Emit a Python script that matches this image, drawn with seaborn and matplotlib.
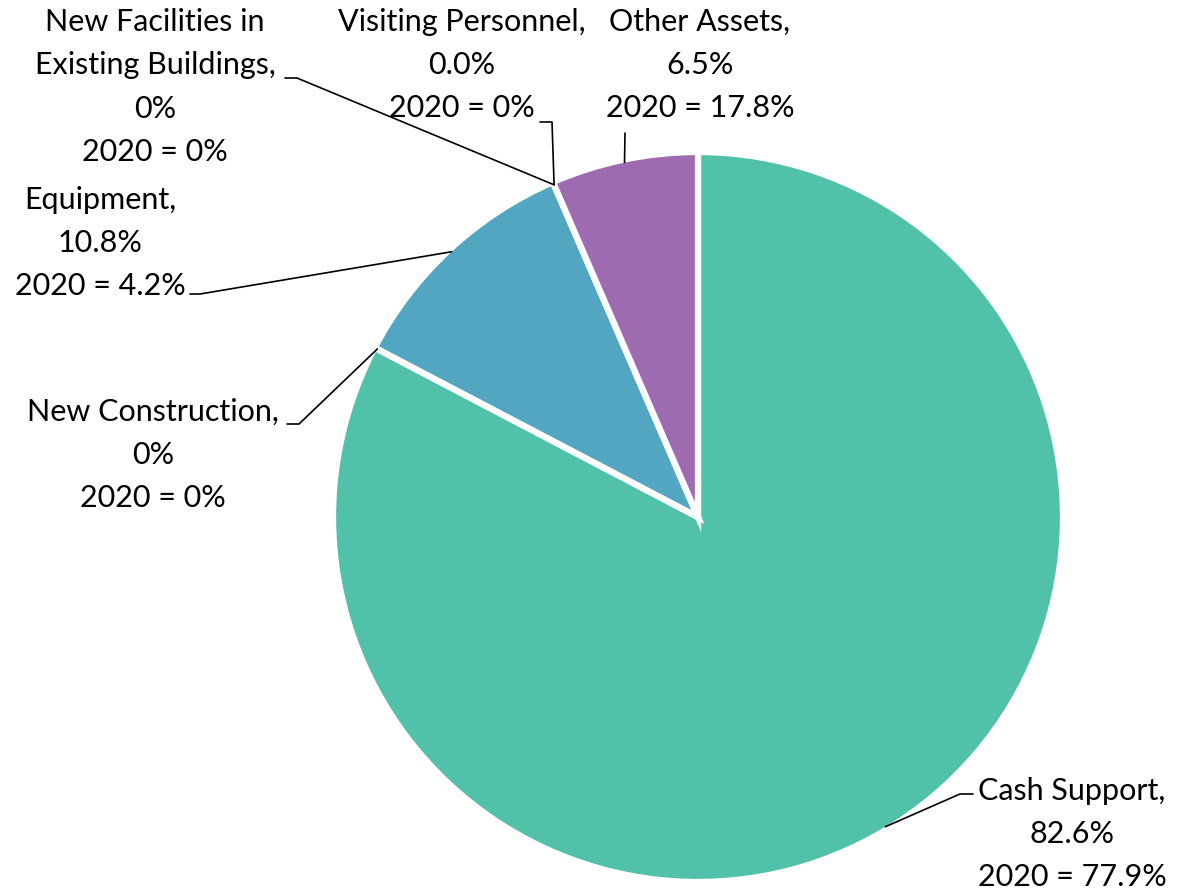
import numpy as np
import matplotlib
matplotlib.use("Agg")
import matplotlib.pyplot as plt
import seaborn as sns

# data (share of total, %), clockwise from 12 o'clock
categories = ["Cash Support", "New Construction", "Equipment",
              "New Facilities in\nExisting Buildings", "Visiting Personnel", "Other Assets"]
share_2021 = [82.6, 0.0, 10.8, 0.0, 0.0, 6.5]
share_labels = ["82.6%", "0%", "10.8%", "0%", "0.0%", "6.5%"]
share_2020 = ["77.9%", "0%", "4.2%", "0%", "0%", "17.8%"]
colors = ["#52c1a9", "#52c1a9", "#52a6c1", "#52a6c1", "#9e6bb0", "#9e6bb0"]

W, H = 1177, 889
sns.set_theme(style="white")
plt.rcParams["font.family"] = ["Lato", "DejaVu Sans"]

fig = plt.figure(figsize=(W / 100, H / 100), dpi=100)
ax = fig.add_axes([0, 0, 1, 1])

cx, cy, r = 698, H - 517, 365
wedges, _ = ax.pie(share_2021, colors=colors, startangle=90, counterclock=False,
                   center=(cx, cy), radius=r, frame=True,
                   wedgeprops=dict(edgecolor="white", linewidth=4.5))
ax.set_xlim(0, W)
ax.set_ylim(0, H)
ax.axis("off")

# label layout in image pixels (y down): text centre, leader path (from label side)
layout = [
    ((1072, 834), [(973, 794), (960, 794)]),
    ((153, 455), [(287, 424), (299, 424)]),
    ((100, 243), [(190, 294), (200, 294)]),
    ((155, 87), [(285, 78), (297, 78)]),
    ((462, 65), [(540, 122), (552, 122)]),
    ((700, 65), [(625, 133)]),
]

for w, name, s, s20, (tpos, path) in zip(wedges, categories, share_labels, share_2020, layout):
    mid = np.deg2rad((w.theta1 + w.theta2) / 2)
    anchor = (cx + (r - 3) * np.cos(mid), cy + (r - 3) * np.sin(mid))
    pts = [(x, H - y) for x, y in path] + [anchor]
    ax.plot([p[0] for p in pts], [p[1] for p in pts], color="black", lw=1.2)
    ax.text(tpos[0], H - tpos[1], f"{name},\n{s}\n2020 = {s20}", ha="center", va="center",
            multialignment="center", fontsize=22, linespacing=1.66, color="black")

fig.savefig("out.png", dpi=100)
